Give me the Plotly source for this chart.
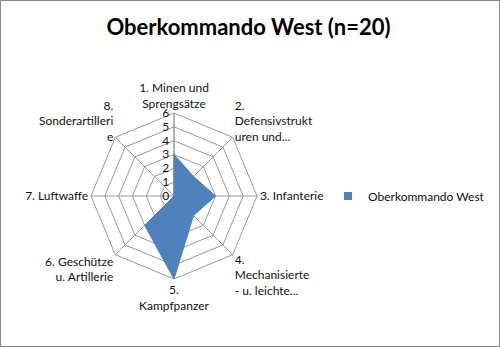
import plotly.graph_objects as go

categories = ["1. Minen und<br>Sprengsätze", "2.<br>Defensivstrukt<br>uren und...", "3. Infanterie",
              "4.<br>Mechanisierte<br>- u. leichte...", "5.<br>Kampfpanzer", "6. Geschütze<br>u. Artillerie",
              "7. Luftwaffe", "8.<br>Sonderartilleri<br>e"]
values = [3, 2, 3, 2, 6, 3, 0, 0]
series_name = "Oberkommando West"
title = "Oberkommando West (n=20)"
radial_ticks = [0, 1, 2, 3, 4, 5, 6]

W, H = 500, 347
cx, cy, R = 174, 196, 83
BLUE = "#4f81bd"

fig = go.Figure()
fig.add_trace(go.Scatterpolar(
    r=values + values[:1], theta=categories + categories[:1],
    mode="lines", fill="toself", fillcolor=BLUE,
    line=dict(color=BLUE, width=1), name=series_name, showlegend=False,
))
fig.add_trace(go.Scatterpolar(
    r=[None], theta=[categories[0]], mode="markers", name=series_name, showlegend=True,
    marker=dict(symbol="square", size=8, color=BLUE),
))

fig.update_layout(
    width=W, height=H, margin=dict(l=0, r=0, t=0, b=0),
    paper_bgcolor="white", plot_bgcolor="white",
    font=dict(family="Lato, Open Sans, sans-serif", size=12, color="#111"),
    title=dict(text="<b>" + title + "</b>", x=0.497, y=1 - 27 / H, xanchor="center", yanchor="middle",
               font=dict(size=22, color="black", family="Lato, Open Sans, sans-serif")),
    polar=dict(
        domain=dict(x=[(cx - R) / W, (cx + R) / W], y=[(H - cy - R) / H, (H - cy + R) / H]),
        bgcolor="white", gridshape="linear",
        angularaxis=dict(direction="clockwise", rotation=90, showline=True, linecolor="#999",
                         gridcolor="#999", ticks="", tickfont=dict(size=12, color="#111"), layer="below traces"),
        radialaxis=dict(range=[0, 6], tickvals=radial_ticks, angle=90, showline=True, linecolor="#999",
                        gridcolor="#999", ticks="", tickfont=dict(size=12, color="#111"),
                        side="counterclockwise", tickangle=90, layer="below traces"),
    ),
    legend=dict(x=328 / W, y=1 - 196 / H, xanchor="left", yanchor="middle",
                font=dict(size=12, color="#111"), itemwidth=30),
    shapes=[dict(type="rect", xref="paper", yref="paper", x0=0.5 / W, x1=1 - 0.5 / W, y0=0.5 / H, y1=1 - 0.5 / H,
                 line=dict(color="#888", width=1))],
)
fig.write_html("out.html")
